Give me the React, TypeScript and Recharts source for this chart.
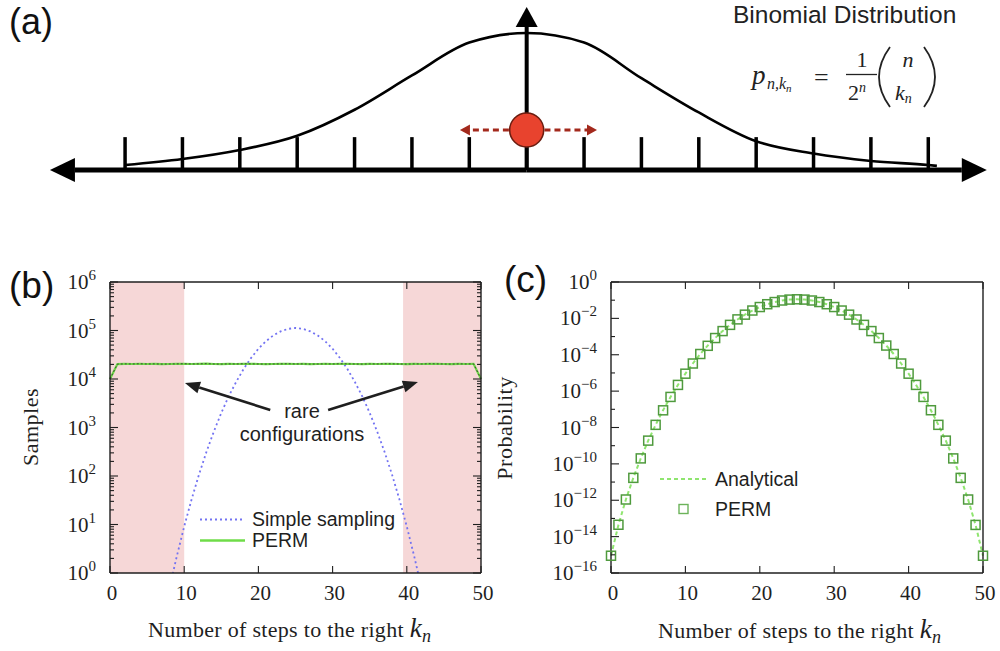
import React from 'react';
import { LineChart, Line, XAxis, YAxis, ReferenceLine, ReferenceDot, ReferenceArea, Legend } from 'recharts';

const SERIF = "'Liberation Serif', 'DejaVu Serif', serif";
const SANS = "'Liberation Sans', Arial, sans-serif";
const INK = '#1f1f1f';

// ---- (a) schematic random walk ----
const latticeSites = [-7, -6, -5, -4, -3, -2, -1, 0, 1, 2, 3, 4, 5, 6, 7];
const bellX = [-7, -6, -5, -4, -3, -2, -1, 0, 1, 2, 3, 4, 5, 6, 7, 7.15];
const bellY = [0.036, 0.08, 0.146, 0.25, 0.44, 0.69, 0.93, 1.0, 0.93, 0.67, 0.42, 0.21, 0.12, 0.066, 0.036, 0.03];

// ---- shared x categories ----
const steps = [
  0, 1, 2, 3, 4, 5, 6, 7, 8, 9, 10, 11, 12, 13, 14, 15, 16, 17, 18, 19, 20, 21, 22, 23, 24, 25,
  26, 27, 28, 29, 30, 31, 32, 33, 34, 35, 36, 37, 38, 39, 40, 41, 42, 43, 44, 45, 46, 47, 48, 49, 50,
];
const stepTicks = [0, 10, 20, 30, 40, 50];

// ---- (b) samples per k ----
const simpleSampling = [
  null, null, null, null, null, null, null, null,
  0.48, 2.2, 9.1, 33, 108, 315, 830, 2000, 4400, 8700, 16000, 27000, 42000, 60000, 79000, 96000, 108000,
  113000,
  108000, 96000, 79000, 60000, 42000, 27000, 16000, 8700, 4400, 2000, 830, 315, 108, 33, 9.1, 2.2, 0.48,
  null, null, null, null, null, null, null, null,
];
const permSamples = [
  10000,
  20300, 20500, 20400, 20600, 20400, 20500, 20300, 20400, 20500, 20600,
  20400, 20500, 20700, 20400, 20300, 20500, 20400, 20600, 20500, 20400,
  20300, 20400, 20500, 20600, 20400, 20500, 20300, 20400, 20500, 20400,
  20600, 20500, 20400, 20300, 20500, 20400, 20600, 20500, 20400, 20300,
  20500, 20400, 20600, 20500, 20400, 20300, 20500, 20400, 20500,
  10000,
];
const rareZones = [[0, 10], [39.5, 50]];
const sampleDecades = [1, 10, 100, 1e3, 1e4, 1e5, 1e6];
const minorFactors = [2, 3, 4, 5, 6, 7, 8, 9];

// ---- (c) probability per k ----
const analyticalProb = [
  8.9e-16, 4.4e-14, 1.1e-12, 1.7e-11, 2.0e-10, 1.9e-9, 1.4e-8, 8.9e-8, 4.8e-7, 2.2e-6,
  9.1e-6, 3.3e-5, 1.1e-4, 3.2e-4, 8.3e-4, 2.0e-3, 4.4e-3, 8.7e-3, 1.6e-2, 2.7e-2,
  4.2e-2, 6.0e-2, 7.9e-2, 9.6e-2, 0.108, 0.112, 0.108, 9.6e-2, 7.9e-2, 6.0e-2,
  4.2e-2, 2.7e-2, 1.6e-2, 8.7e-3, 4.4e-3, 2.0e-3, 8.3e-4, 3.2e-4, 1.1e-4, 3.3e-5,
  9.1e-6, 2.2e-6, 4.8e-7, 8.9e-8, 1.4e-8, 1.9e-9, 2.0e-10, 1.7e-11, 1.1e-12, 4.4e-14,
  8.9e-16,
];
const permProb = [
  8.9e-16, 4.5e-14, 1.1e-12, 1.7e-11, 2.0e-10, 1.9e-9, 1.4e-8, 8.8e-8, 4.8e-7, 2.2e-6,
  9.1e-6, 3.3e-5, 1.1e-4, 3.1e-4, 8.3e-4, 2.0e-3, 4.4e-3, 8.8e-3, 1.6e-2, 2.7e-2,
  4.2e-2, 6.0e-2, 7.9e-2, 9.6e-2, 0.108, 0.112, 0.108, 9.6e-2, 7.9e-2, 6.0e-2,
  4.2e-2, 2.7e-2, 1.6e-2, 8.7e-3, 4.4e-3, 2.0e-3, 8.3e-4, 3.2e-4, 1.1e-4, 3.3e-5,
  9.1e-6, 2.2e-6, 4.8e-7, 8.9e-8, 1.4e-8, 1.9e-9, 2.0e-10, 1.7e-11, 1.1e-12, 4.4e-14,
  8.9e-16,
];
const probDecades = [1, 1e-1, 1e-2, 1e-3, 1e-4, 1e-5, 1e-6, 1e-7, 1e-8, 1e-9, 1e-10, 1e-11, 1e-12, 1e-13, 1e-14, 1e-15, 1e-16];
const probLabelled = [1, 1e-2, 1e-4, 1e-6, 1e-8, 1e-10, 1e-12, 1e-14, 1e-16];

const bellRows = bellX.map((pos, i) => ({ pos, h: bellY[i] }));
const samplingRows = steps.map((k, i) => ({ k, simple: simpleSampling[i], perm: permSamples[i] }));
const probRows = steps.map((k, i) => ({ k, analytical: analyticalProb[i], perm: permProb[i] }));
const sampleTicks = [
  ...sampleDecades,
  ...sampleDecades.slice(0, -1).flatMap((d) => minorFactors.map((f) => d * f)),
].sort((a, b) => a - b);

const TICK_GAP = 14;
const frameLine = { stroke: INK, strokeWidth: 1.4 };

const expText = (v: number) => {
  const e = Math.round(Math.log10(v));
  return e < 0 ? `\u2212${-e}` : `${e}`;
};

function leftLogTick(labelled: number[], majors: number[]) {
  return ({ x, y, payload }: any) => {
    const v = payload.value;
    const ax = x + TICK_GAP;
    const len = majors.includes(v) ? 8 : 4;
    return (
      <g>
        <line x1={ax} x2={ax + len} y1={y} y2={y} stroke={INK} strokeWidth={1.1} />
        {labelled.includes(v) && (
          <text x={x} y={y + 7} textAnchor="end" fontFamily={SERIF} fontSize={21} fill={INK}>
            10<tspan dy={-9} fontSize={15}>{expText(v)}</tspan>
          </text>
        )}
      </g>
    );
  };
}

function rightLogTick(majors: number[]) {
  return ({ x, y, payload }: any) => {
    const ax = x - TICK_GAP;
    const len = majors.includes(payload.value) ? 8 : 4;
    return <line x1={ax} x2={ax - len} y1={y} y2={y} stroke={INK} strokeWidth={1.1} />;
  };
}

const bottomTick = ({ x, y, payload }: any) => {
  const ay = y - 19;
  return (
    <g>
      <line x1={x} x2={x} y1={ay} y2={ay - 7} stroke={INK} strokeWidth={1.1} />
      <text x={x + 2} y={y + 8} textAnchor="middle" fontFamily={SERIF} fontSize={21} fill={INK}>
        {payload.value}
      </text>
    </g>
  );
};

const topTick = ({ x, y }: any) => {
  const ay = y + TICK_GAP;
  return <line x1={x} x2={x} y1={ay} y2={ay + 7} stroke={INK} strokeWidth={1.1} />;
};

function arrowShape(color: string, width: number, headLen: number, headWidth: number, dash?: string) {
  return (p: any) => {
    const { x1, y1, x2, y2 } = p;
    const dx = x2 - x1;
    const dy = y2 - y1;
    const len = Math.hypot(dx, dy) || 1;
    const ux = dx / len;
    const uy = dy / len;
    const bx = x2 - ux * headLen;
    const by = y2 - uy * headLen;
    const nx = (-uy * headWidth) / 2;
    const ny = (ux * headWidth) / 2;
    return (
      <g>
        <line x1={x1} y1={y1} x2={bx} y2={by} stroke={color} strokeWidth={width} strokeDasharray={dash} />
        <polygon points={`${x2},${y2} ${bx + nx},${by + ny} ${bx - nx},${by - ny}`} fill={color} />
      </g>
    );
  };
}

function LegendBox({ payload, rowHeight, sampleWidth, gap, samples }: any) {
  const order = Object.keys(samples);
  const items = (payload || [])
    .filter((item: any) => item.type !== 'none' && order.includes(item.value))
    .sort((a: any, b: any) => order.indexOf(a.value) - order.indexOf(b.value));
  return (
    <div style={{ fontFamily: SANS, fontSize: 19.5, color: INK }}>
      {items.map((item: any) => (
        <div key={item.value} style={{ display: 'flex', alignItems: 'center', height: rowHeight, lineHeight: `${rowHeight}px` }}>
          <svg width={sampleWidth} height={rowHeight}>{samples[item.value](sampleWidth, rowHeight)}</svg>
          <span style={{ marginLeft: gap, whiteSpace: 'nowrap' }}>{item.value}</span>
        </div>
      ))}
    </div>
  );
}

const samplingLegend: Record<string, (w: number, h: number) => React.ReactNode> = {
  'Simple sampling': (w, h) => (
    <line x1={0} x2={w} y1={h / 2} y2={h / 2} stroke="#7373f2" strokeWidth={2} strokeDasharray="2 3" />
  ),
  PERM: (w, h) => <line x1={0} x2={w} y1={h / 2} y2={h / 2} stroke="#6fdc48" strokeWidth={2.4} />,
};
const probLegend: Record<string, (w: number, h: number) => React.ReactNode> = {
  Analytical: (w, h) => (
    <line x1={0} x2={w} y1={h / 2} y2={h / 2} stroke="#8fe56f" strokeWidth={2} strokeDasharray="4 3" />
  ),
  PERM: (w, h) => (
    <rect x={w / 2 - 4.5} y={h / 2 - 4.5} width={9} height={9} fill="none" stroke="#6cb35a" strokeWidth={1.4} />
  ),
};

const squareDot = (p: any) => {
  const { cx, cy, index } = p;
  if (cx == null || cy == null) return <g key={index} />;
  return <rect key={index} x={cx - 4.5} y={cy - 4.5} width={9} height={9} fill="none" stroke="#4f9a3d" strokeWidth={1.5} />;
};

function SchematicPanel() {
  return (
    <LineChart width={1000} height={200} data={bellRows} margin={{ top: 0, right: 0, bottom: 0, left: 0 }}>
      <XAxis type="number" dataKey="pos" domain={[-9.18, 8.25]} hide allowDataOverflow />
      <YAxis type="number" domain={[-0.219, 1.241]} hide allowDataOverflow />
      <ReferenceLine segment={[{ x: 0, y: 0 }, { x: -8.31, y: 0 }]} shape={arrowShape('#000', 5, 25, 24)} />
      <ReferenceLine segment={[{ x: 0, y: 0 }, { x: 8.02, y: 0 }]} shape={arrowShape('#000', 5, 25, 24)} />
      {latticeSites.map((s) => (
        <ReferenceLine key={s} segment={[{ x: s, y: 0 }, { x: s, y: 0.24 }]} stroke="#000" strokeWidth={3.5} />
      ))}
      <ReferenceLine segment={[{ x: 0, y: 0 }, { x: 0, y: 1.19 }]} shape={arrowShape('#000', 4, 20, 22)} />
      <Line type="monotone" dataKey="h" stroke="#000" strokeWidth={2.6} dot={false} activeDot={false} isAnimationActive={false} />
      <ReferenceLine segment={[{ x: -0.31, y: 0.292 }, { x: -1.163, y: 0.292 }]} shape={arrowShape('#a3291c', 3, 10, 11, '6 4')} />
      <ReferenceLine segment={[{ x: 0.31, y: 0.292 }, { x: 1.226, y: 0.292 }]} shape={arrowShape('#a3291c', 3, 10, 11, '6 4')} />
      <ReferenceDot x={0} y={0.292} r={17} fill="#e8432e" stroke="#6b1d10" strokeWidth={1.5} />
    </LineChart>
  );
}

function SamplingPanel() {
  return (
    <LineChart width={500} height={400} data={samplingRows} margin={{ top: 22, right: 9, bottom: 27, left: 50 }}>
      {rareZones.map(([a, b]) => (
        <ReferenceArea key={a} x1={a} x2={b} fill="#f6d7d7" fillOpacity={1} stroke="none" />
      ))}
      <Line dataKey="simple" name="Simple sampling" stroke="#7373f2" strokeWidth={1.8} strokeDasharray="2 3" dot={false} activeDot={false} isAnimationActive={false} />
      <Line dataKey="perm" name="PERM" stroke="#6fdc48" strokeWidth={2.2} dot={false} activeDot={false} isAnimationActive={false} />
      <Line dataKey="perm" name="guide" legendType="none" stroke="#333" strokeWidth={0.9} strokeDasharray="2 2" dot={false} activeDot={false} isAnimationActive={false} />
      <ReferenceLine segment={[{ x: 21.6, y: 2300 }, { x: 10.1, y: 8300 }]} shape={arrowShape(INK, 2.6, 15, 12)} />
      <ReferenceLine segment={[{ x: 29.4, y: 2300 }, { x: 41.5, y: 8700 }]} shape={arrowShape(INK, 2.6, 15, 12)} />
      <Legend
        layout="vertical"
        align="center"
        verticalAlign="middle"
        wrapperStyle={{ left: 200, top: 259, width: 230 }}
        content={(props: any) => <LegendBox payload={props.payload} rowHeight={21} sampleWidth={45} gap={7} samples={samplingLegend} />}
      />
      <XAxis dataKey="k" type="number" domain={[0, 50]} ticks={stepTicks} interval={0} tickSize={0} tickMargin={19} tick={bottomTick} axisLine={frameLine} height={50} />
      <XAxis xAxisId="top" orientation="top" type="number" domain={[0, 50]} ticks={stepTicks} interval={0} tickSize={0} tickMargin={TICK_GAP} tick={topTick} axisLine={frameLine} height={10} />
      <YAxis type="number" scale="log" domain={[1, 1e6]} allowDataOverflow ticks={sampleTicks} interval={0} tickSize={0} tickMargin={TICK_GAP} tick={leftLogTick(sampleDecades, sampleDecades)} axisLine={frameLine} width={60} />
      <YAxis yAxisId="r" orientation="right" type="number" scale="log" domain={[1, 1e6]} allowDataOverflow ticks={sampleTicks} interval={0} tickSize={0} tickMargin={TICK_GAP} tick={rightLogTick(sampleDecades)} axisLine={frameLine} width={10} />
    </LineChart>
  );
}

function ProbabilityPanel() {
  return (
    <LineChart width={500} height={400} data={probRows} margin={{ top: 22, right: 7, bottom: 27, left: 51 }}>
      <Line dataKey="analytical" name="Analytical" stroke="#8fe56f" strokeWidth={2} strokeDasharray="4 3" dot={false} activeDot={false} isAnimationActive={false} />
      <Line dataKey="perm" name="PERM" stroke="none" dot={squareDot} activeDot={false} isAnimationActive={false} />
      <Legend
        layout="vertical"
        align="center"
        verticalAlign="middle"
        wrapperStyle={{ left: 160, top: 214, width: 200 }}
        content={(props: any) => <LegendBox payload={props.payload} rowHeight={30} sampleWidth={47} gap={8} samples={probLegend} />}
      />
      <XAxis dataKey="k" type="number" domain={[0, 50]} ticks={stepTicks} interval={0} tickSize={0} tickMargin={19} tick={bottomTick} axisLine={frameLine} height={50} />
      <XAxis xAxisId="top" orientation="top" type="number" domain={[0, 50]} ticks={stepTicks} interval={0} tickSize={0} tickMargin={TICK_GAP} tick={topTick} axisLine={frameLine} height={10} />
      <YAxis type="number" scale="log" domain={[1e-16, 1]} ticks={probDecades} interval={0} tickSize={0} tickMargin={TICK_GAP} tick={leftLogTick(probLabelled, probLabelled)} axisLine={frameLine} width={60} />
      <YAxis yAxisId="r" orientation="right" type="number" scale="log" domain={[1e-16, 1]} ticks={probDecades} interval={0} tickSize={0} tickMargin={TICK_GAP} tick={rightLogTick(probLabelled)} axisLine={frameLine} width={10} />
    </LineChart>
  );
}

function XTitle({ x, y }: { x: number; y: number }) {
  return (
    <text x={x} y={y} fontFamily={SERIF} fontSize={22} letterSpacing={0.3} fill={INK}>
      Number of steps to the right{' '}
      <tspan fontStyle="italic" fontSize={27}>k</tspan>
      <tspan fontStyle="italic" fontSize={18} dy={5}>n</tspan>
    </text>
  );
}

export default function App() {
  return (
    <div style={{ position: 'absolute', left: 0, top: 0, width: 1000, height: 651, background: '#fff', overflow: 'hidden' }}>
      <div style={{ position: 'absolute', left: 0, top: 0 }}>
        <SchematicPanel />
      </div>
      <div style={{ position: 'absolute', left: 0, top: 250 }}>
        <SamplingPanel />
      </div>
      <div style={{ position: 'absolute', left: 500, top: 250 }}>
        <ProbabilityPanel />
      </div>
      <svg width={1000} height={651} style={{ position: 'absolute', left: 0, top: 0, pointerEvents: 'none' }}>
        <text x={9} y={34} fontFamily={SANS} fontSize={36} fill="#111">(a)</text>
        <text x={9} y={298} fontFamily={SANS} fontSize={37} fill="#111">(b)</text>
        <text x={504} y={292} fontFamily={SANS} fontSize={37} fill="#111">(c)</text>

        <text x={733} y={23} fontFamily={SANS} fontSize={24.5} fill="#222">Binomial Distribution</text>
        <g fontFamily={SERIF} fill="#222">
          <text x={752} y={84} fontSize={27} fontStyle="italic">p</text>
          <text x={767} y={89} fontSize={16} fontStyle="italic">
            n,k<tspan fontSize={11} dy={3}>n</tspan>
          </text>
          <text x={814} y={86} fontSize={26}>=</text>
          <text x={862} y={67} fontSize={22} textAnchor="middle">1</text>
          <line x1={846} x2={877} y1={74.5} y2={74.5} stroke="#222" strokeWidth={1.3} />
          <text x={848} y={100} fontSize={22}>
            2<tspan fontSize={14} fontStyle="italic" dy={-8}>n</tspan>
          </text>
          <path d="M 890 47 Q 868 77 890 107" fill="none" stroke="#222" strokeWidth={1.8} />
          <path d="M 924 47 Q 946 77 924 107" fill="none" stroke="#222" strokeWidth={1.8} />
          <text x={908} y={67} fontSize={22} fontStyle="italic" textAnchor="middle">n</text>
          <text x={895} y={100} fontSize={22} fontStyle="italic">
            k<tspan fontSize={14} dy={3}>n</tspan>
          </text>
        </g>

        <text x={302} y={418} textAnchor="middle" fontFamily={SANS} fontSize={20} fill={INK}>rare</text>
        <text x={302} y={441} textAnchor="middle" fontFamily={SANS} fontSize={20} fill={INK}>configurations</text>

        <text x={38} y={427} transform="rotate(-90 38 427)" textAnchor="middle" fontFamily={SERIF} fontSize={22} letterSpacing={0.5} fill={INK}>Samples</text>
        <text x={512} y={428} transform="rotate(-90 512 428)" textAnchor="middle" fontFamily={SERIF} fontSize={22} letterSpacing={0.5} fill={INK}>Probability</text>
        <XTitle x={148} y={637} />
        <XTitle x={658} y={638} />
      </svg>
    </div>
  );
}
